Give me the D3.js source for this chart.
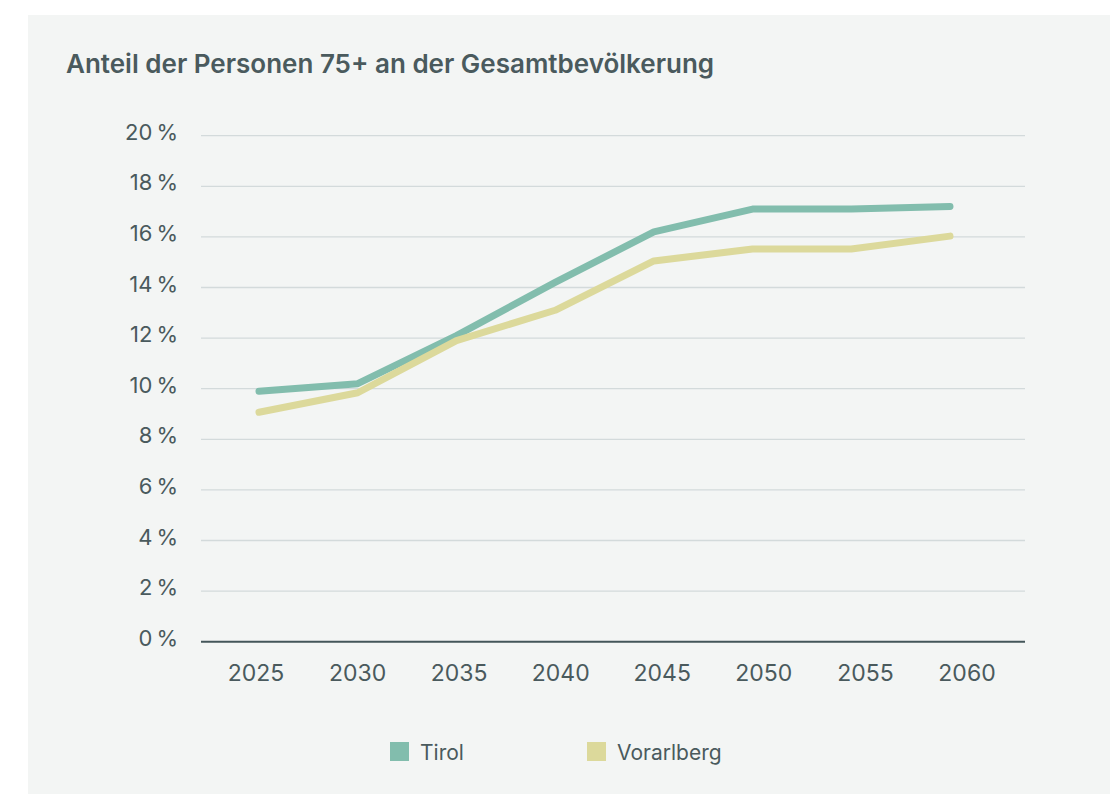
<!DOCTYPE html>
<html>
<head>
<meta charset="utf-8">
<script src="https://cdn.jsdelivr.net/npm/d3@7"></script>
<style>
  body { margin: 0; background: #fff; }
  svg { display: block; font-family: Inter, "Noto Sans", sans-serif; }
</style>
</head>
<body>
<svg id="chart" width="1110" height="794"></svg>
<script>
// data
var years = ['2025', '2030', '2035', '2040', '2045', '2050', '2055', '2060'];
var tirol = [9.9, 10.2, 12.1, 14.2, 16.2, 17.1, 17.1, 17.2];
var vorarlberg = [9.07, 9.84, 11.9, 13.1, 15.05, 15.52, 15.52, 16.03];
var yTicks = [0, 2, 4, 6, 8, 10, 12, 14, 16, 18, 20];
var seriesNames = ['Tirol', 'Vorarlberg'];
var seriesColors = ['#82bdad', '#dcd99b'];

var svg = d3.select('#chart');
var textColor = '#4a5a5d';

svg.append('rect')
  .attr('x', 28).attr('y', 15)
  .attr('width', 1082).attr('height', 779)
  .attr('fill', '#f3f5f4');

svg.append('text')
  .attr('x', 66).attr('y', 73)
  .attr('fill', textColor)
  .style('font-size', '26px')
  .style('font-weight', 600)
  .text('Anteil der Personen 75+ an der Gesamtbevölkerung');

var y = d3.scaleLinear().domain([0, 20]).range([641.7, 135.7]);
// lines and year labels sit on slightly different spacings in the original
var xLine = d3.scalePoint().domain(years).range([259, 950]);
var xLabel = d3.scalePoint().domain(years).range([256, 967]);

var grid = svg.append('g');
grid.selectAll('line')
  .data(yTicks.filter(function (d) { return d > 0; }))
  .enter().append('line')
  .attr('x1', 201).attr('x2', 1025)
  .attr('y1', function (d) { return y(d); })
  .attr('y2', function (d) { return y(d); })
  .attr('stroke', '#d3dadb')
  .attr('stroke-width', 1.3);

svg.append('line')
  .attr('x1', 201).attr('x2', 1025)
  .attr('y1', y(0)).attr('y2', y(0))
  .attr('stroke', '#44565a')
  .attr('stroke-width', 2);

svg.append('g').selectAll('text')
  .data(yTicks)
  .enter().append('text')
  .attr('x', 178)
  .attr('y', function (d) { return y(d) + 4; })
  .attr('text-anchor', 'end')
  .attr('fill', textColor)
  .style('font-size', '22px')
  .text(function (d) { return d + '\u2009%'; });

svg.append('g').selectAll('text')
  .data(years)
  .enter().append('text')
  .attr('x', function (d) { return xLabel(d); })
  .attr('y', 681)
  .attr('text-anchor', 'middle')
  .attr('fill', textColor)
  .style('font-size', '23px')
  .text(function (d) { return d; });

var line = d3.line()
  .x(function (d, i) { return xLine(years[i]); })
  .y(function (d) { return y(d); });

[tirol, vorarlberg].forEach(function (values, i) {
  svg.append('path')
    .datum(values)
    .attr('d', line)
    .attr('fill', 'none')
    .attr('stroke', seriesColors[i])
    .attr('stroke-width', 7)
    .attr('stroke-linecap', 'round')
    .attr('stroke-linejoin', 'round');
});

var legendX = [390, 587];
var legend = svg.append('g').selectAll('g')
  .data(seriesNames)
  .enter().append('g')
  .attr('transform', function (d, i) { return 'translate(' + legendX[i] + ',742)'; });
legend.append('rect')
  .attr('width', 19).attr('height', 19)
  .attr('fill', function (d, i) { return seriesColors[i]; });
legend.append('text')
  .attr('x', 30).attr('y', 18)
  .attr('fill', textColor)
  .style('font-size', '21px')
  .text(function (d) { return d; });
</script>
</body>
</html>
